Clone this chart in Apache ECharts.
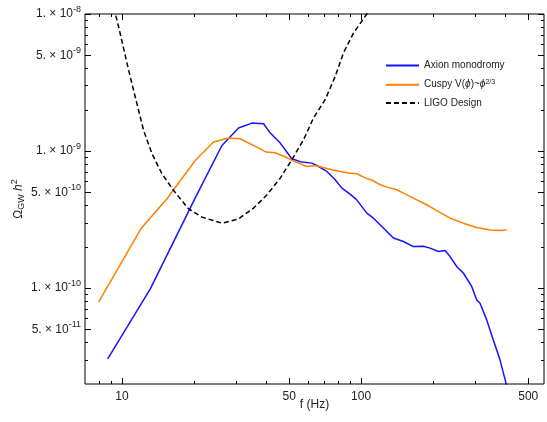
<!DOCTYPE html>
<html><head><meta charset="utf-8">
<script src="https://cdn.jsdelivr.net/npm/echarts@6/dist/echarts.min.js"></script>
<style>html,body{margin:0;padding:0;background:#fff}#c{width:547px;height:422px}</style>
</head><body><div id="c"></div>
<script>
// ---- data ----
const freqAxion = [8.71, 13.13, 20.24, 26.17, 30.7, 34.9, 39.1, 41.7, 45.9, 51.3, 56.5, 62.2, 65.3, 71.9, 77.9, 83.1, 89.9, 95.9, 105.6, 112.6, 122.1, 136.5, 150.3, 165.4, 182.1, 194.2, 210.4, 224.4, 235.5, 251.1, 267.6, 290.1, 304.5, 314.3, 335.2, 357.2, 381.0, 403.6, 411.5];
const omegaAxion = [3.05e-11, 9.88e-11, 4.56e-10, 1.099e-9, 1.472e-9, 1.60e-9, 1.582e-9, 1.353e-9, 1.144e-9, 8.79e-10, 8.31e-10, 8.17e-10, 7.85e-10, 7.10e-10, 6.17e-10, 5.37e-10, 4.85e-10, 4.41e-10, 3.53e-10, 3.24e-10, 2.82e-10, 2.32e-10, 2.19e-10, 2.01e-10, 2.02e-10, 1.96e-10, 1.85e-10, 1.88e-10, 1.70e-10, 1.44e-10, 1.29e-10, 1.03e-10, 8.21e-11, 7.77e-11, 5.87e-11, 4.19e-11, 3.00e-11, 2.03e-11, 1.75e-11];

const freqCuspy = [7.98, 12.04, 15.42, 20.24, 24.14, 27.9, 31.2, 35.4, 40.1, 43.7, 48.1, 52.1, 59.3, 64.2, 69.4, 75.4, 81.7, 88.5, 95.9, 103.9, 112.6, 120.1, 128.1, 141.0, 150.3, 165.4, 188.2, 210.4, 235.5, 267.6, 304.5, 346.0, 381.0, 406.3];
const omegaCuspy = [7.91e-11, 2.74e-10, 4.49e-10, 8.54e-10, 1.164e-9, 1.245e-9, 1.23e-9, 1.10e-9, 9.83e-10, 9.72e-10, 9.09e-10, 8.49e-10, 7.72e-10, 7.85e-10, 7.59e-10, 7.30e-10, 7.10e-10, 6.91e-10, 6.83e-10, 6.38e-10, 6.07e-10, 5.68e-10, 5.46e-10, 5.22e-10, 4.94e-10, 4.54e-10, 4.06e-10, 3.62e-10, 3.24e-10, 2.98e-10, 2.77e-10, 2.66e-10, 2.63e-10, 2.66e-10];

const freqLIGO = [9.20, 9.38, 9.68, 10.66, 11.36, 12.31, 13.35, 14.69, 16.43, 18.98, 21.60, 26.17, 30.7, 35.5, 40.4, 45.9, 51.3, 57.4, 63.2, 70.7, 77.9, 84.3, 92.9, 105.6, 110];
const omegaLIGO = [1.27e-8, 1e-8, 8.04e-9, 3.88e-9, 2.48e-9, 1.414e-9, 9.56e-10, 6.83e-10, 5.16e-10, 3.79e-10, 3.30e-10, 2.98e-10, 3.20e-10, 3.84e-10, 4.80e-10, 6.35e-10, 8.64e-10, 1.209e-9, 1.741e-9, 2.37e-9, 3.50e-9, 5.19e-9, 7.26e-9, 1e-8, 1.15e-8];

const seriesNames = ['Axion monodromy', 'Cuspy', 'LIGO Design'];

const xMajorTicks = [10, 50, 100, 500];
const xMinorTicks = [8, 9, 20, 30, 40, 60, 70, 80, 90, 200, 300, 400];
const yMajorTicks = [5e-11, 1e-10, 5e-10, 1e-9, 5e-9, 1e-8];
const yMinorTicks = [3e-11, 4e-11, 6e-11, 7e-11, 8e-11, 9e-11, 2e-10, 3e-10, 4e-10, 6e-10, 7e-10, 8e-10, 9e-10, 2e-9, 3e-9, 4e-9, 6e-9, 7e-9, 8e-9, 9e-9];

const xRange = [7, 582];
const yRange = [2e-11, 1e-8];

// ---- chart ----
const FONT = '"Liberation Sans", Arial, Helvetica, sans-serif';
const TXT = '#222';
const pairs = (xs, ys) => xs.map((x, i) => [x, ys[i]]);

function yLabel(v) {
  const e = Math.floor(Math.log10(v) + 1e-6);
  const m = Math.round(v / Math.pow(10, e));
  return '{m|' + m + '. × 10}{e|' + '-' + (-e) + '}';
}

function xAx(position, ticks, len, labels, extra) {
  return Object.assign({
    type: 'log', logBase: 10, min: xRange[0], max: xRange[1], position: position,
    axisLine: { show: false },
    axisTick: { show: true, inside: true, length: len, customValues: ticks, lineStyle: { color: '#000', width: 1 } },
    axisLabel: labels ? { customValues: ticks, formatter: v => String(Math.round(v)), margin: 7, fontSize: 12, color: TXT, fontFamily: FONT } : { show: false },
    splitLine: { show: false }, minorTick: { show: false }, minorSplitLine: { show: false }
  }, extra || {});
}
function yAx(position, ticks, len, labels, extra) {
  return Object.assign({
    type: 'log', logBase: 10, min: yRange[0], max: yRange[1], position: position,
    axisLine: { show: false },
    axisTick: { show: true, inside: true, length: len, customValues: ticks, lineStyle: { color: '#000', width: 1 } },
    axisLabel: labels ? {
      customValues: ticks, formatter: yLabel, margin: 4, color: TXT, fontFamily: FONT,
      rich: {
        m: { fontSize: 12, color: TXT, fontFamily: FONT },
        e: { fontSize: 9, color: TXT, fontFamily: FONT, padding: [0, 0, 9, 0] }
      }
    } : { show: false },
    splitLine: { show: false }, minorTick: { show: false }, minorSplitLine: { show: false }
  }, extra || {});
}

const chart = echarts.init(document.getElementById('c'), null, { renderer: 'canvas' });
chart.setOption({
  animation: false,
  backgroundColor: '#fff',
  grid: { left: 85, right: 3, top: 14, bottom: 38, show: true, borderColor: '#000', borderWidth: 1,
          backgroundColor: 'transparent', containLabel: false, outerBoundsMode: 'none' },
  xAxis: [
    xAx('bottom', xMajorTicks, 6, true, {
      name: 'f (Hz)', nameLocation: 'middle', nameGap: 15, nameMoveOverlap: false,
      nameTextStyle: { fontSize: 12, color: TXT, fontFamily: FONT }
    }),
    xAx('bottom', xMinorTicks, 3, false),
    xAx('top', xMajorTicks, 6, false),
    xAx('top', xMinorTicks, 3, false)
  ],
  yAxis: [
    yAx('left', yMajorTicks, 6, true, {
      name: '{a|Ω}{s|GW}{a| }{i|h}{p|2}', nameLocation: 'middle', nameGap: 58, nameRotate: 90, nameMoveOverlap: false,
      nameTextStyle: {
        color: TXT, fontFamily: FONT,
        rich: {
          a: { fontSize: 12, color: TXT, fontFamily: FONT },
          s: { fontSize: 9, color: TXT, fontFamily: FONT, padding: [7, 0, 0, 0] },
          i: { fontSize: 12, fontStyle: 'italic', color: TXT, fontFamily: FONT },
          p: { fontSize: 9, color: TXT, fontFamily: FONT, padding: [0, 0, 8, 0] }
        }
      }
    }),
    yAx('left', yMinorTicks, 3, false),
    yAx('right', yMajorTicks, 6, false),
    yAx('right', yMinorTicks, 3, false)
  ],
  legend: {
    orient: 'vertical', left: 385, top: 60, padding: 0, itemWidth: 33, itemHeight: 14, itemGap: 7,
    data: seriesNames,
    itemStyle: { color: 'rgba(0,0,0,0)', borderWidth: 0, opacity: 0 },
    formatter: function (n) {
      if (n === 'Cuspy') return '{t|Cuspy V(}{i|ϕ}{t|)~}{i|ϕ}{p|2/3}';
      return '{t|' + n + '}';
    },
    textStyle: {
      fontSize: 10, color: TXT, fontFamily: FONT,
      rich: {
        t: { fontSize: 10, color: TXT, fontFamily: FONT },
        i: { fontSize: 10, fontStyle: 'italic', color: TXT, fontFamily: FONT },
        p: { fontSize: 7, color: TXT, fontFamily: FONT, padding: [0, 0, 6, 0] }
      }
    }
  },
  series: [
    { name: seriesNames[0], type: 'line', xAxisIndex: 0, yAxisIndex: 0, data: pairs(freqAxion, omegaAxion),
      symbol: 'none', clip: true, lineStyle: { color: '#1414ff', width: 1.5 }, itemStyle: { color: '#1414ff' } },
    { name: seriesNames[1], type: 'line', xAxisIndex: 0, yAxisIndex: 0, data: pairs(freqCuspy, omegaCuspy),
      symbol: 'none', clip: true, lineStyle: { color: '#ff8000', width: 1.5 }, itemStyle: { color: '#ff8000' } },
    { name: seriesNames[2], type: 'line', xAxisIndex: 0, yAxisIndex: 0, data: pairs(freqLIGO, omegaLIGO),
      symbol: 'none', clip: true, lineStyle: { color: '#000', width: 1.5, type: [5, 3] }, itemStyle: { color: '#000' } }
  ]
});
</script>
</body></html>
